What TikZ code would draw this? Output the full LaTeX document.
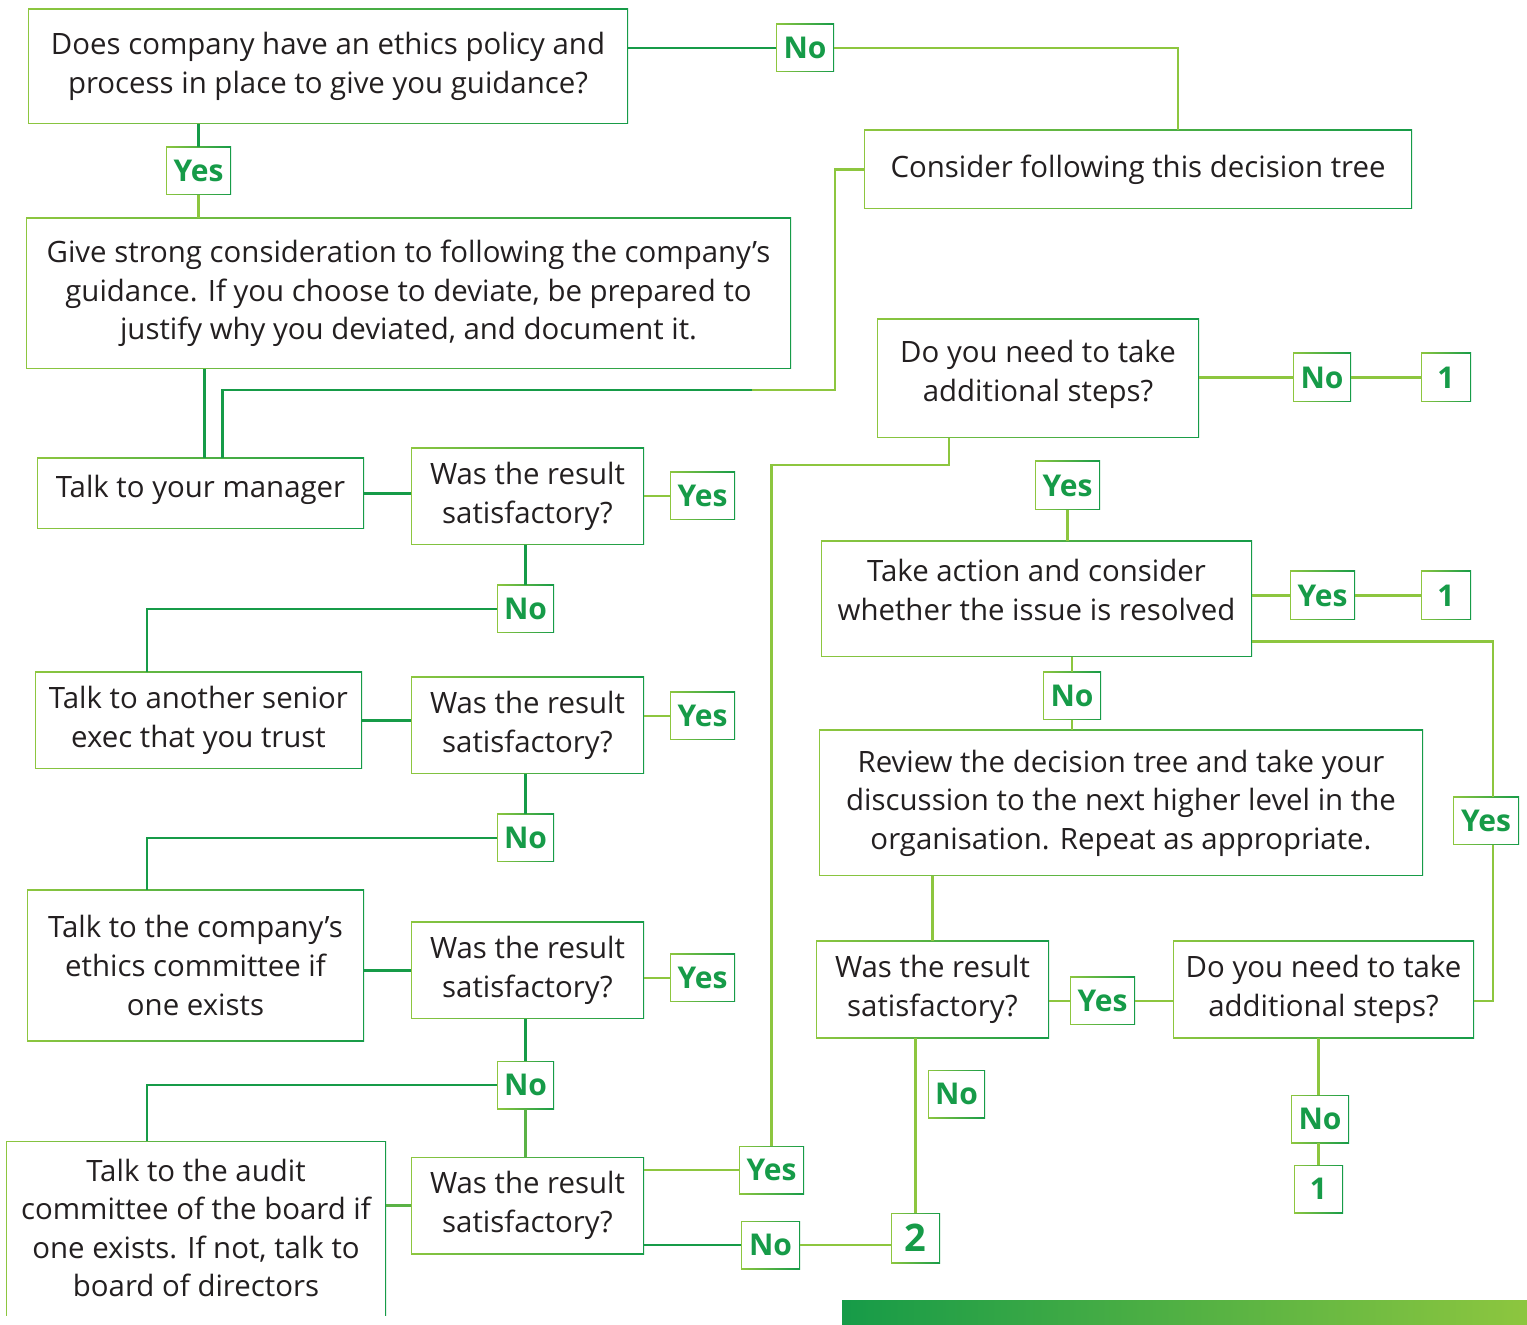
\documentclass[tikz,border=0pt]{standalone}
\usepackage{fontspec}
\setmainfont{Open Sans}
\definecolor{dg}{RGB}{22,155,72}
\definecolor{lg}{RGB}{141,198,63}
\definecolor{mg}{RGB}{90,178,70}
\definecolor{tx}{RGB}{35,31,32}
\newcommand\mybox[7]{\node[#1, minimum width={(#5-#3)*0.5pt}, minimum height={(#6-#4)*0.5pt}] (#2) at ({(#3+#5)/2},{(#4+#6)/2}) {#7};}
\newcommand\upby[2]{\raisebox{#1}[\height][\depth]{\begin{tabular}{@{}c@{}}#2\end{tabular}}}
\tikzset{
 frame/.style={path picture={
   \shade[left color=lg,right color=dg] (path picture bounding box.south west) rectangle (path picture bounding box.north east);
   \fill[white] ([shift={(0.7pt,0.7pt)}]path picture bounding box.south west) rectangle ([shift={(-0.7pt,-0.7pt)}]path picture bounding box.north east);}},
 frameopen/.style={path picture={
   \shade[left color=lg,right color=dg] (path picture bounding box.south west) rectangle (path picture bounding box.north east);
   \fill[white] ([shift={(0.7pt,-2pt)}]path picture bounding box.south west) rectangle ([shift={(-0.7pt,-0.7pt)}]path picture bounding box.north east);}},
 box/.style={frame, inner sep=0pt, align=center, text=tx, font=\fontsize{14.7}{19.3}\selectfont},
 obox/.style={frameopen, inner sep=0pt, align=center, text=tx, font=\fontsize{14.7}{19.3}\selectfont},
 lab/.style={frame, inner sep=0pt, text=dg, font=\fontsize{15}{18}\selectfont\bfseries},
 big/.style={frame, inner sep=0pt, text=dg, font=\fontsize{19}{22}\selectfont\bfseries},
 dk/.style={draw=dg, line width=1.3pt},
 lt/.style={draw=lg, line width=1.3pt},
 md/.style={draw=mg, line width=1.3pt},
}
\begin{document}
\begin{tikzpicture}[x=0.5pt,y=-0.5pt]
\useasboundingbox (0,0) rectangle (1527,1325);
\shade[left color=dg, right color=lg] (842,1300) rectangle (1527,1325);
% left column
\mybox{box}{q1}{28}{9}{628}{124}{Does company have an ethics policy and\\process in place to give you guidance?}
\mybox{lab}{no1}{776}{24}{834}{72}{No}
\mybox{box}{cons}{864}{130}{1412}{209}{Consider following this decision tree}
\mybox{lab}{yes1}{166}{147}{231}{195}{Yes}
\mybox{box}{guid}{26}{218}{791}{369}{Give strong consideration to following the company’s\\guidance. If you choose to deviate, be prepared to\\justify why you deviated, and document it.}
\mybox{box}{man}{37}{458}{364}{529}{\upby{2pt}{Talk to your manager}}
\mybox{box}{wr1}{411}{448}{644}{545}{Was the result\\satisfactory?}
\mybox{lab}{wy1}{670}{472}{735}{520}{Yes}
\mybox{lab}{wn1}{497}{585}{554}{633}{No}
\mybox{box}{sen}{35}{672}{362}{769}{Talk to another senior\\exec that you trust}
\mybox{box}{wr2}{411}{677}{644}{774}{Was the result\\satisfactory?}
\mybox{lab}{wy2}{670}{692}{735}{740}{Yes}
\mybox{lab}{wn2}{497}{814}{554}{862}{No}
\mybox{box}{eth}{27}{890}{364}{1041}{Talk to the company’s\\ethics committee if\\one exists}
\mybox{box}{wr3}{411}{922}{644}{1019}{Was the result\\satisfactory?}
\mybox{lab}{wy3}{670}{954}{735}{1002}{Yes}
\mybox{lab}{wn3}{497}{1061}{554}{1109}{No}
\mybox{obox}{aud}{6}{1141}{386}{1315}{Talk to the audit\\committee of the board if\\one exists. If not, talk to\\board of directors}
\mybox{box}{wr4}{411}{1157}{644}{1254}{Was the result\\satisfactory?}
\mybox{lab}{wy4}{739}{1146}{804}{1194}{Yes}
\mybox{lab}{wn4}{741}{1221}{800}{1269}{No}
\mybox{big}{two}{891}{1213}{940}{1263}{2}
% right column
\mybox{box}{as1}{877}{319}{1199}{438}{\upby{2pt}{Do you need to take\\additional steps?}}
\mybox{lab}{an1}{1293}{353}{1351}{402}{No}
\mybox{lab}{one1}{1421}{353}{1471}{402}{1}
\mybox{lab}{ay1}{1035}{461}{1100}{510}{Yes}
\mybox{box}{ta}{821}{541}{1252}{657}{\upby{3pt}{Take action and consider\\whether the issue is resolved}}
\mybox{lab}{ty}{1290}{571}{1355}{620}{Yes}
\mybox{lab}{one2}{1421}{571}{1471}{620}{1}
\mybox{lab}{tn}{1043}{672}{1101}{720}{No}
\mybox{box}{rev}{819}{730}{1423}{876}{Review the decision tree and take your\\discussion to the next higher level in the\\organisation. Repeat as appropriate.}
\mybox{lab}{ry}{1453}{797}{1519}{845}{Yes}
\mybox{box}{wr5}{816}{941}{1049}{1038}{Was the result\\satisfactory?}
\mybox{lab}{wy5}{1070}{977}{1135}{1025}{Yes}
\mybox{box}{as2}{1173}{941}{1474}{1038}{Do you need to take\\additional steps?}
\mybox{lab}{wn5}{928}{1070}{985}{1118}{No}
\mybox{lab}{an2}{1291}{1095}{1349}{1143}{No}
\mybox{lab}{one3}{1294}{1165}{1343}{1213}{1}
% connectors left
\draw[dk] (no1.west -| q1.east) -- (no1.west);
\draw[lt] (no1.east) -| ([xshift=20pt]cons.north);
\draw[dk] (yes1.north) -- (yes1.north |- q1.south);
\draw[lt] (yes1.south) -- (yes1.south |- guid.north);
\draw[dk] ([xshift=2pt]man.north) -- ([xshift=2pt]man.north |- guid.south);
\coordinate (cb) at (835,390);
\coordinate (cm) at (752,390);
\draw[lt] (cons.west) -| (cb) -- (cm);
\draw[dk] (cm) -| ([xshift=11pt]man.north);
\draw[dk] (man.east) -- (man.east -| wr1.west);
\draw[lt] (wy1.west -| wr1.east) -- (wy1.west);
\draw[dk] (wn1.north |- wr1.south) -- (wn1.north);
\draw[dk] (wn1.west) -| ([xshift=-25.75pt]sen.north);
\draw[dk] (sen.east) -- (sen.east -| wr2.west);
\draw[lt] (wy2.west -| wr2.east) -- (wy2.west);
\draw[dk] (wn2.north |- wr2.south) -- (wn2.north);
\draw[dk] (wn2.west) -| ([xshift=-24.25pt]eth.north);
\draw[dk] (wr3.west -| eth.east) -- (wr3.west);
\draw[lt] (wy3.west -| wr3.east) -- (wy3.west);
\draw[dk] (wn3.north |- wr3.south) -- (wn3.north);
\draw[dk] (wn3.west) -| ([xshift=-24.5pt]aud.north);
\draw[md] (wn3.south) -- (wn3.south |- wr4.north);
\draw[md] (wr4.west -| aud.east) -- (wr4.west);
\draw[lt] (wy4.west -| wr4.east) -- (wy4.west);
\coordinate (yk) at (949,465);
\draw[lt] (wy4.north) |- (yk) -- (yk |- as1.south);
\draw[dk] (wn4.west -| wr4.east) -- (wn4.west);
\draw[lt] (wn4.east) -- (wn4.east -| two.west);
% connectors right
\draw[lt] (an1.west -| as1.east) -- (an1.west);
\draw[lt] (an1.east) -- (one1.west);
\draw[lt] (ay1.south) -- (ay1.south |- ta.north);
\draw[lt] (ty.west -| ta.east) -- (ty.west);
\draw[lt] (ty.east) -- (one2.west);
\draw[lt] ([yshift=8pt]ta.south east) -| ([xshift=3.5pt]ry.north);
\draw[lt] ([xshift=3.5pt]ry.south) |- ([yshift=-5.75pt]as2.east);
\draw[lt] (tn.north |- ta.south) -- (tn.north);
\draw[lt] (tn.south) -- (tn.south |- rev.north);
\draw[lt] (wr5.north |- rev.south) -- (wr5.north);
\draw[lt] (wy5.west -| wr5.east) -- (wy5.west);
\draw[lt] (wy5.east) -- (wy5.east -| as2.west);
\draw[lt] (two.north |- wr5.south) -- (two.north);
\draw[lt] (one3.north |- as2.south) -- (one3.north |- an2.north);
\draw[lt] (one3.north |- an2.south) -- (one3.north);
\end{tikzpicture}
\end{document}
